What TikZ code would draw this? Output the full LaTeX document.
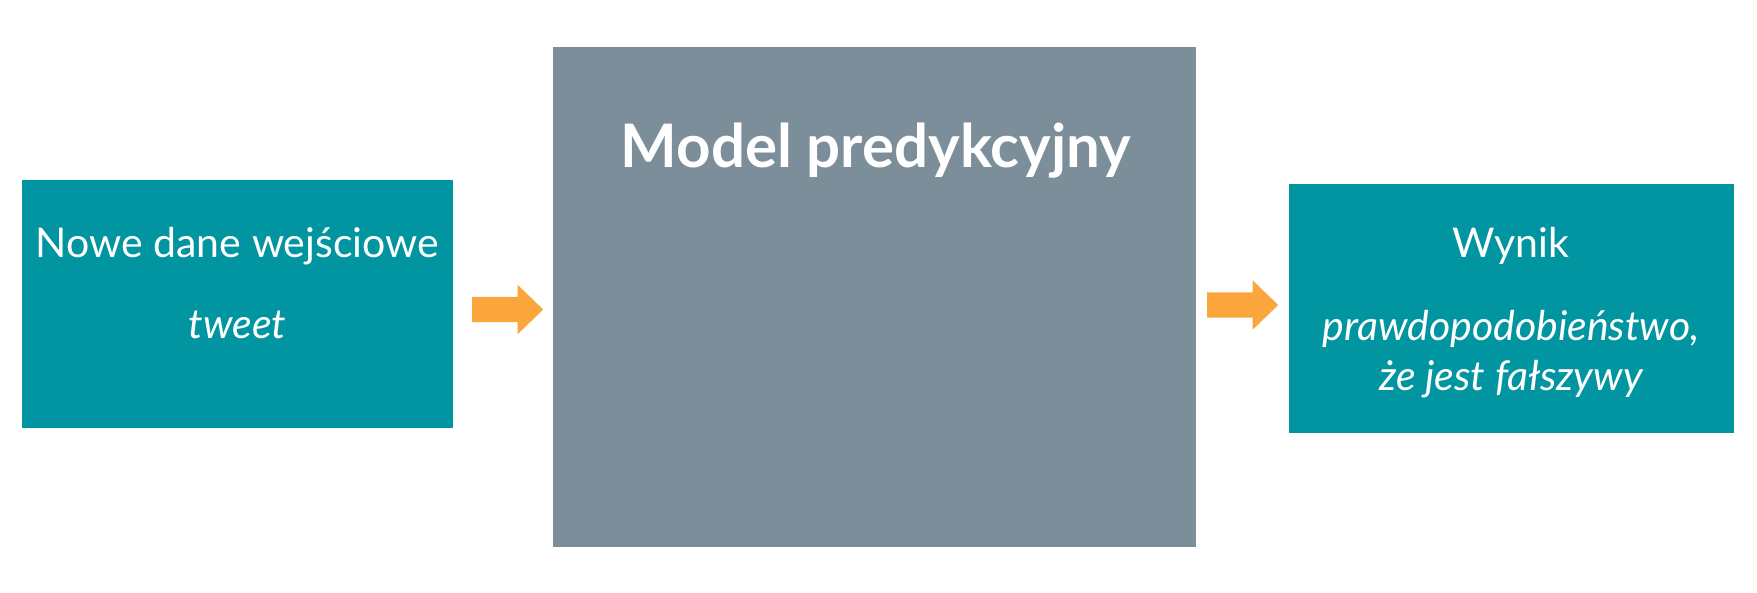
\documentclass[tikz,border=0pt]{standalone}
\usepackage{fontspec}
\setmainfont{Lato}
\usetikzlibrary{shapes.arrows,positioning}

\definecolor{tealbox}{RGB}{0,149,161}
\definecolor{modelgray}{RGB}{123,142,153}
\definecolor{flowarrow}{RGB}{250,166,60}

\begin{document}
\begin{tikzpicture}[x=1pt,y=-1pt,
	box/.style={rectangle,anchor=north west,inner sep=0pt,draw=none},
	label/.style={anchor=base,text=white,inner sep=0pt,font=\fontsize{41}{50}\selectfont},
	flow/.style={single arrow,fill=flowarrow,draw=none,inner xsep=0pt,inner ysep=12.5pt,anchor=tail,
		single arrow head extend=12pt,minimum height=71pt,single arrow tip angle=88}]
			\useasboundingbox[fill=white] (0,0) rectangle (1757,592);
			\node[box,fill=tealbox,minimum width=431pt,minimum height=248pt] (input) at (22,180) {};
			\node[box,fill=modelgray,minimum width=643pt,minimum height=500pt] (model) at (553,47) {};
			\node[box,fill=tealbox,minimum width=445pt,minimum height=249pt] (output) at (1289,184) {};
			
			\node[flow] (toModel) at (472,309.5) {};
			\node[flow] (toOutput) at (1207,305) {};
			
			\node[label] (inputTitle) at (237.5,257) {Nowe dane wejściowe};
			\node[label,font=\fontsize{41}{50}\selectfont\itshape] (inputItem) at (237.5,338) {tweet};
			\node[label,font=\fontsize{60}{72}\selectfont\bfseries] (modelTitle) at (876,167) {Model predykcyjny};
			\node[label] (outputTitle) at (1511,257) {Wynik};
			\node[label,font=\fontsize{41}{50}\selectfont\itshape] (outputLineA) at (1511,340) {prawdopodobieństwo,};
			\node[label,font=\fontsize{41}{50}\selectfont\itshape] (outputLineB) at (1511,390) {że jest fałszywy};
		\end{tikzpicture}
\end{document}
